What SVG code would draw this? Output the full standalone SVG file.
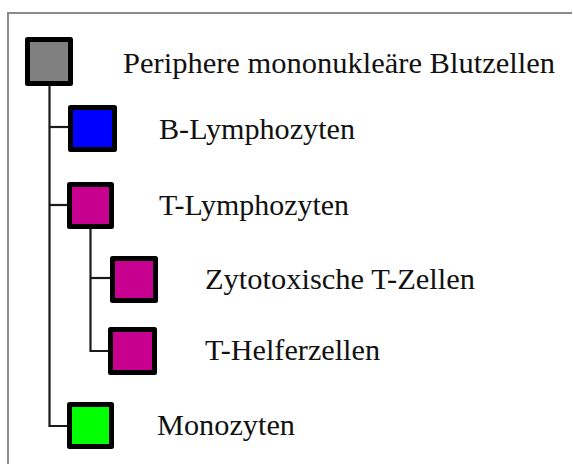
<svg xmlns="http://www.w3.org/2000/svg" width="573" height="464" viewBox="0 0 573 464">
  <style>
    .frame { fill: none; stroke: #8a8a8a; stroke-width: 2; }
    .box { stroke: #000; stroke-width: 5; stroke-linejoin: round; }
    .link { fill: none; stroke: #1a1a1a; stroke-width: 2.2; }
    .label { font-family: "Liberation Serif", "Times New Roman", serif; font-size: 30px; fill: #111; }
  </style>
  <rect width="573" height="464" fill="#fff"/>
  <!-- outer frame (open at right and bottom) -->
  <path class="frame" d="M8,464 V13 H572"/>

  <!-- tree connectors -->
  <g id="connectors">
    <path class="link" d="M49.5,86 V426 H68"/>
    <path class="link" d="M49.5,127 H69"/>
    <path class="link" d="M49.5,205 H68"/>
    <path class="link" d="M90.5,229 V351 H109"/>
    <path class="link" d="M90.5,278 H111"/>
  </g>

  <g id="pbmc">
    <rect class="box" x="27.5" y="39.5" width="43" height="44" fill="#808080"/>
    <text class="label" x="123" y="73" textLength="432" lengthAdjust="spacingAndGlyphs">Periphere mononukleäre Blutzellen</text>
  </g>
  <g id="b-lymphozyten">
    <rect class="box" x="70.5" y="107.5" width="44" height="42" fill="#0000ff"/>
    <text class="label" x="159" y="139" textLength="196" lengthAdjust="spacingAndGlyphs">B-Lymphozyten</text>
  </g>
  <g id="t-lymphozyten">
    <rect class="box" x="69.5" y="184.5" width="42" height="42" fill="#c8008f"/>
    <text class="label" x="159" y="215" textLength="190" lengthAdjust="spacingAndGlyphs">T-Lymphozyten</text>
  </g>
  <g id="zytotoxische">
    <rect class="box" x="112.5" y="258.5" width="43" height="42" fill="#c8008f"/>
    <text class="label" x="205" y="289" textLength="270" lengthAdjust="spacingAndGlyphs">Zytotoxische T-Zellen</text>
  </g>
  <g id="t-helfer">
    <rect class="box" x="110.5" y="329.5" width="44" height="43" fill="#c8008f"/>
    <text class="label" x="205" y="360" textLength="175" lengthAdjust="spacingAndGlyphs">T-Helferzellen</text>
  </g>
  <g id="monozyten">
    <rect class="box" x="69.5" y="404.5" width="42" height="42" fill="#00ff00"/>
    <text class="label" x="157" y="435" textLength="138" lengthAdjust="spacingAndGlyphs">Monozyten</text>
  </g>
</svg>
